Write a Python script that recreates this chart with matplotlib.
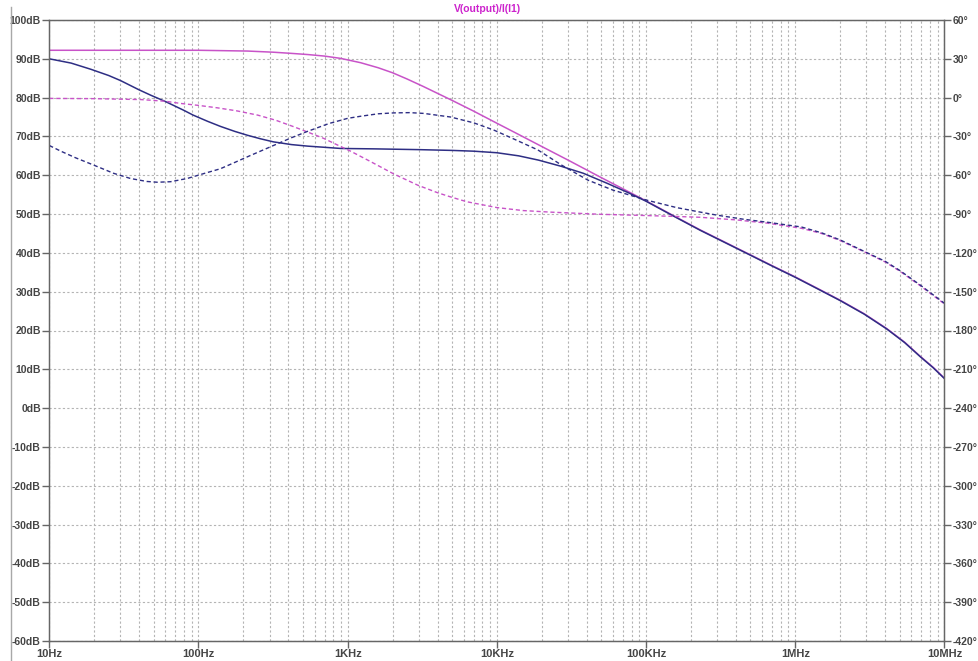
import matplotlib
matplotlib.use("Agg")
import matplotlib.pyplot as plt
from matplotlib.lines import Line2D
from matplotlib.ticker import FixedLocator, LogLocator, NullFormatter

# Bode-Daten: Frequenz [Hz], Betrag [dB], Phase [Grad]
f_mag_a = [10, 14, 19, 25, 30, 40, 48, 60, 68, 80, 92, 115, 140, 175, 213, 260, 318, 420,
           540, 700, 900, 1500, 3000, 5000, 7000, 10000, 14000, 19000, 27000, 38000, 55000,
           75000, 100000, 154000, 231000, 340000, 500000, 700000, 1e6, 1.4e6, 2e6, 2.9e6,
           4.1e6, 5.4e6, 6.9e6, 8.4e6, 1e7]
mag_a = [90.0, 88.9, 87.3, 85.7, 84.4, 82.0, 80.6, 79.0, 78.0, 76.7, 75.5, 73.9, 72.6, 71.3,
         70.3, 69.4, 68.6, 67.9, 67.5, 67.2, 66.9, 66.8, 66.6, 66.4, 66.2, 65.8, 65.0, 63.9,
         62.3, 60.5, 57.9, 55.6, 53.3, 49.4, 45.8, 42.6, 39.4, 36.6, 33.7, 30.8, 27.7, 24.2,
         20.4, 16.9, 13.2, 10.4, 7.6]

f_mag_b = [10, 100, 213, 318, 420, 540, 700, 900, 1220, 1600, 2000, 2500, 3200, 4000, 5000,
           7000, 10000, 14000, 20000, 30000, 50000, 70000, 100000, 154000, 231000, 340000,
           500000, 700000, 1e6, 1.4e6, 2e6, 2.9e6, 4.1e6, 5.4e6, 6.9e6, 8.4e6, 1e7]
mag_b = [92.2, 92.2, 92.0, 91.7, 91.4, 91.1, 90.7, 90.1, 89.0, 87.7, 86.4, 84.8, 82.9, 81.1,
         79.3, 76.5, 73.4, 70.5, 67.4, 63.9, 59.4, 56.5, 53.4, 49.5, 45.9, 42.7, 39.5, 36.7,
         33.8, 30.9, 27.8, 24.3, 20.5, 17.0, 13.3, 10.5, 7.7]

f_ph_a = [10, 12, 15, 19.7, 27, 35, 45, 53, 65, 84, 110, 140, 171, 220, 272, 318, 420, 540,
          750, 1000, 1220, 1600, 2037, 2600, 3236, 4900, 7000, 9500, 13000, 18800, 27000,
          40800, 60000, 103000, 160000, 231000, 304000, 450000, 649000, 1.1e6, 1.5e6, 2e6,
          3e6, 4e6, 5e6, 6e6, 6.9e6, 8.3e6, 1e7]
ph_a = [-37.0, -41.5, -46.5, -52.0, -58.5, -62.5, -64.8, -65.4, -65.0, -62.5, -58.5, -55.0,
        -50.6, -45.0, -40.4, -37.0, -31.0, -26.0, -20.0, -16.0, -14.4, -12.5, -11.8, -11.6,
        -12.2, -15.0, -19.5, -25.0, -32.0, -40.4, -52.0, -63.8, -71.5, -79.5, -85.0, -88.5,
        -91.0, -94.0, -96.3, -100.0, -104.5, -110.0, -119.7, -126.5, -133.5, -140.0, -145.0,
        -152.0, -159.0]

f_ph_b = [10, 20, 41, 60, 76, 100, 134, 180, 249, 330, 435, 550, 690, 850, 1050, 1400, 2037,
          2951, 4000, 4910, 6300, 10000, 15000, 22800, 50000, 91000, 154000, 231000, 400000,
          649000, 1.1e6, 1.5e6, 2e6, 3e6, 4e6, 5e6, 6e6, 6.9e6, 8.3e6, 1e7]
ph_b = [-0.6, -0.8, -1.5, -2.8, -4.5, -6.0, -7.9, -10.2, -13.5, -17.5, -22.5, -27.0, -31.5,
        -36.5, -41.5, -49.0, -59.0, -67.7, -73.5, -76.8, -80.5, -85.0, -87.3, -88.5, -90.2,
        -91.0, -91.8, -92.5, -94.5, -97.0, -101.0, -105.0, -110.5, -120.0, -127.0, -134.0,
        -140.5, -145.5, -152.5, -159.5]

db_ticks = list(range(-60, 101, 10))
deg_ticks = list(range(-420, 61, 30))
hz_ticks = [10, 100, 1e3, 1e4, 1e5, 1e6, 1e7]
hz_labels = ["10Hz", "100Hz", "1KHz", "10KHz", "100KHz", "1MHz", "10MHz"]

magenta = "#c853c8"
navy = "#2e2e84"
txt = "#454545"
gridc = "#b4b4b4"
fs = 7.5

plt.rcParams["font.family"] = ["Liberation Sans", "DejaVu Sans"]

fig = plt.figure(figsize=(9.79, 6.61), dpi=100)
ax = fig.add_axes([49.3 / 979, 1 - 641 / 661, (944.5 - 49.3) / 979, (641 - 20) / 661])

ax.set_xscale("log")
ax.set_xlim(10, 1e7)
ax.set_ylim(-60, 100)

ax.xaxis.set_major_locator(FixedLocator(hz_ticks))
ax.set_xticklabels(hz_labels)
ax.xaxis.set_minor_locator(LogLocator(base=10, subs=range(2, 10), numticks=50))
ax.xaxis.set_minor_formatter(NullFormatter())
ax.set_yticks(db_ticks)
ax.set_yticklabels([f"{v}dB" for v in db_ticks])

ax.grid(True, which="both", axis="x", color=gridc, linestyle=(0, (2, 2)), linewidth=0.8)
ax.grid(True, which="major", axis="y", color=gridc, linestyle=(0, (2, 2)), linewidth=0.8)

for s in ax.spines.values():
    s.set_color("#666666")
    s.set_linewidth(1.0)

ax.tick_params(axis="both", which="major", direction="out", length=5, width=1,
               color="#666666", labelcolor=txt, labelsize=fs)
ax.tick_params(axis="x", which="minor", length=0)
ax.tick_params(axis="x", pad=1, labelsize=8)
ax.tick_params(axis="y", pad=1)
for lbl in ax.get_xticklabels() + ax.get_yticklabels():
    lbl.set_fontweight("bold")

# Betrag (durchgezogen)
ax.plot(f_mag_b, mag_b, color=magenta, linewidth=1.1)
ax.plot(f_mag_a, mag_a, color=navy, linewidth=1.1)

# Phase auf der rechten Achse (gestrichelt)
ax2 = ax.twinx()
ax2.set_ylim(-420, 60)
ax2.set_yticks(deg_ticks)
ax2.set_yticklabels([f"{v}°" for v in deg_ticks])
ax2.tick_params(axis="y", direction="out", length=5, width=1, color="#666666",
                labelcolor=txt, labelsize=fs, pad=1)
for lbl in ax2.get_yticklabels():
    lbl.set_fontweight("bold")
for s in ax2.spines.values():
    s.set_color("#666666")
ax2.plot(f_ph_b, ph_b, color=magenta, linewidth=1.0, linestyle=(0, (3, 2)))
ax2.plot(f_ph_a, ph_a, color=navy, linewidth=1.0, linestyle=(0, (3, 2)))

fig.text(487 / 979, 1 - 9 / 661, "V(output)/I(I1)", color="#cc22cc", fontsize=fs,
         fontweight="bold", ha="center", va="center")

# linker Fensterrand
fig.add_artist(Line2D([11 / 979, 11 / 979], [0, 1 - 7 / 661], color="#a8a8a8",
                      linewidth=1.0, transform=fig.transFigure))

fig.savefig("out.png", dpi=100)
